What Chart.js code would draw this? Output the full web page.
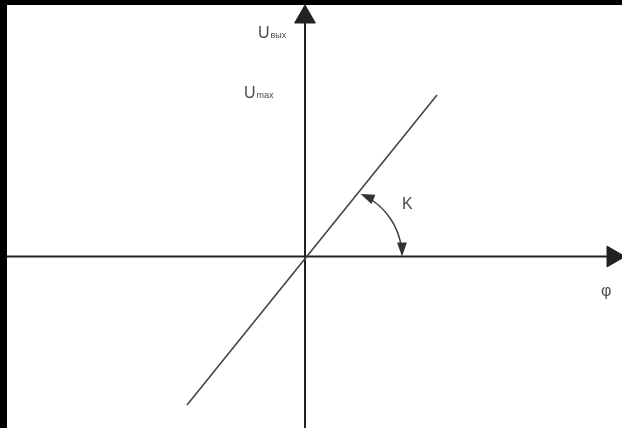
<!DOCTYPE html>
<html>
<head>
<meta charset="utf-8">
<script src="https://cdn.jsdelivr.net/npm/chart.js@4"></script>
<style>
  html, body { margin: 0; padding: 0; background: #000; width: 622px; height: 428px; overflow: hidden; }
  #wrap { position: absolute; left: 7px; top: 5px; width: 615px; height: 423px; background: #fff; }
  canvas { display: block; }
</style>
</head>
<body>
<div id="wrap"><canvas id="c" width="615" height="423"></canvas></div>
<script>
// ---- data (chart units) ----
const responsePhi = [-11.8, 13.2];      // φ values of the transfer line ends
const responseU   = [-14.85, 16.15];    // U values of the transfer line ends
const phiAxisExtent = [-29.8, 30.8];    // horizontal axis (φ) from / to (arrow)
const uAxisExtent   = [-17.15, 23.95];  // vertical axis (U) from / to (arrow)
const labelMain = ['U', 'U', 'K', 'φ'];
const labelSub  = ['вых', 'max', '', ''];

// ---- label placement / styles (not data) ----
const labelPos = [
  { x: -4.7, y: 21.9 },
  { x: -6.1, y: 15.9 },
  { x: 9.7,  y: 4.75 },
  { x: 29.6, y: -3.95 }
];

const annotate = {
  id: 'annotate',
  afterDatasetsDraw(chart) {
    const ctx = chart.ctx;
    const xs = chart.scales.x, ys = chart.scales.y;
    ctx.save();
    // angle arc K
    const cx = xs.getPixelForValue(2.9), cy = ys.getPixelForValue(0);
    const r = xs.getPixelForValue(2.9 + 6.8) - cx;
    const a0 = -67 * Math.PI / 180, a1 = 0;
    ctx.strokeStyle = '#444';
    ctx.fillStyle = '#333';
    ctx.lineWidth = 1.5;
    ctx.beginPath();
    ctx.arc(cx, cy, r, a0 + 0.12, a1 - 0.12);
    ctx.stroke();
    function head(theta, dirSign) {
      const tx = cx + r * Math.cos(theta), ty = cy + r * Math.sin(theta);
      let dx = -Math.sin(theta) * dirSign, dy = Math.cos(theta) * dirSign;
      const L = 14, w = 5;
      const bx = tx - dx * L, by = ty - dy * L;
      ctx.beginPath();
      ctx.moveTo(tx, ty);
      ctx.lineTo(bx - dy * w, by + dx * w);
      ctx.lineTo(bx + dy * w, by - dx * w);
      ctx.closePath();
      ctx.fill();
    }
    head(a0, -1);
    head(a1, 1);

    // labels
    ctx.fillStyle = '#4a4a4a';
    ctx.textBaseline = 'alphabetic';
    ctx.textAlign = 'left';
    labelMain.forEach((t, i) => {
      const px = xs.getPixelForValue(labelPos[i].x);
      const py = ys.getPixelForValue(labelPos[i].y);
      ctx.font = '16px "Liberation Sans", Arial, sans-serif';
      ctx.fillText(t, px, py);
      if (labelSub[i]) {
        const w = ctx.measureText(t).width;
        ctx.font = '9px "Liberation Sans", Arial, sans-serif';
        ctx.fillText(labelSub[i], px + w + 1, py);
      }
    });
    ctx.restore();
  }
};

new Chart(document.getElementById('c'), {
  type: 'scatter',
  data: {
    datasets: [
      {
        data: responsePhi.map((p, i) => ({ x: p, y: responseU[i] })),
        showLine: true, borderColor: '#444', borderWidth: 1.6,
        pointRadius: 0
      },
      {
        data: phiAxisExtent.map(p => ({ x: p, y: 0 })),
        showLine: true, borderColor: '#222', borderWidth: 2,
        pointStyle: 'triangle', pointRadius: [0, 12], pointRotation: 90,
        pointBackgroundColor: '#222', pointBorderColor: '#222', pointBorderWidth: 1
      },
      {
        data: uAxisExtent.map(u => ({ x: 0, y: u })),
        showLine: true, borderColor: '#222', borderWidth: 2,
        pointStyle: 'triangle', pointRadius: [0, 12], pointRotation: 0,
        pointBackgroundColor: '#222', pointBorderColor: '#222', pointBorderWidth: 1
      }
    ]
  },
  options: {
    responsive: false,
    animation: false,
    events: [],
    layout: { padding: 0, autoPadding: false },
    plugins: { legend: { display: false }, tooltip: { enabled: false } },
    scales: {
      x: { type: 'linear', min: -29.8, max: 31.7, display: false },
      y: { type: 'linear', min: -17.15, max: 25.15, display: false }
    }
  },
  plugins: [annotate]
});
</script>
</body>
</html>
